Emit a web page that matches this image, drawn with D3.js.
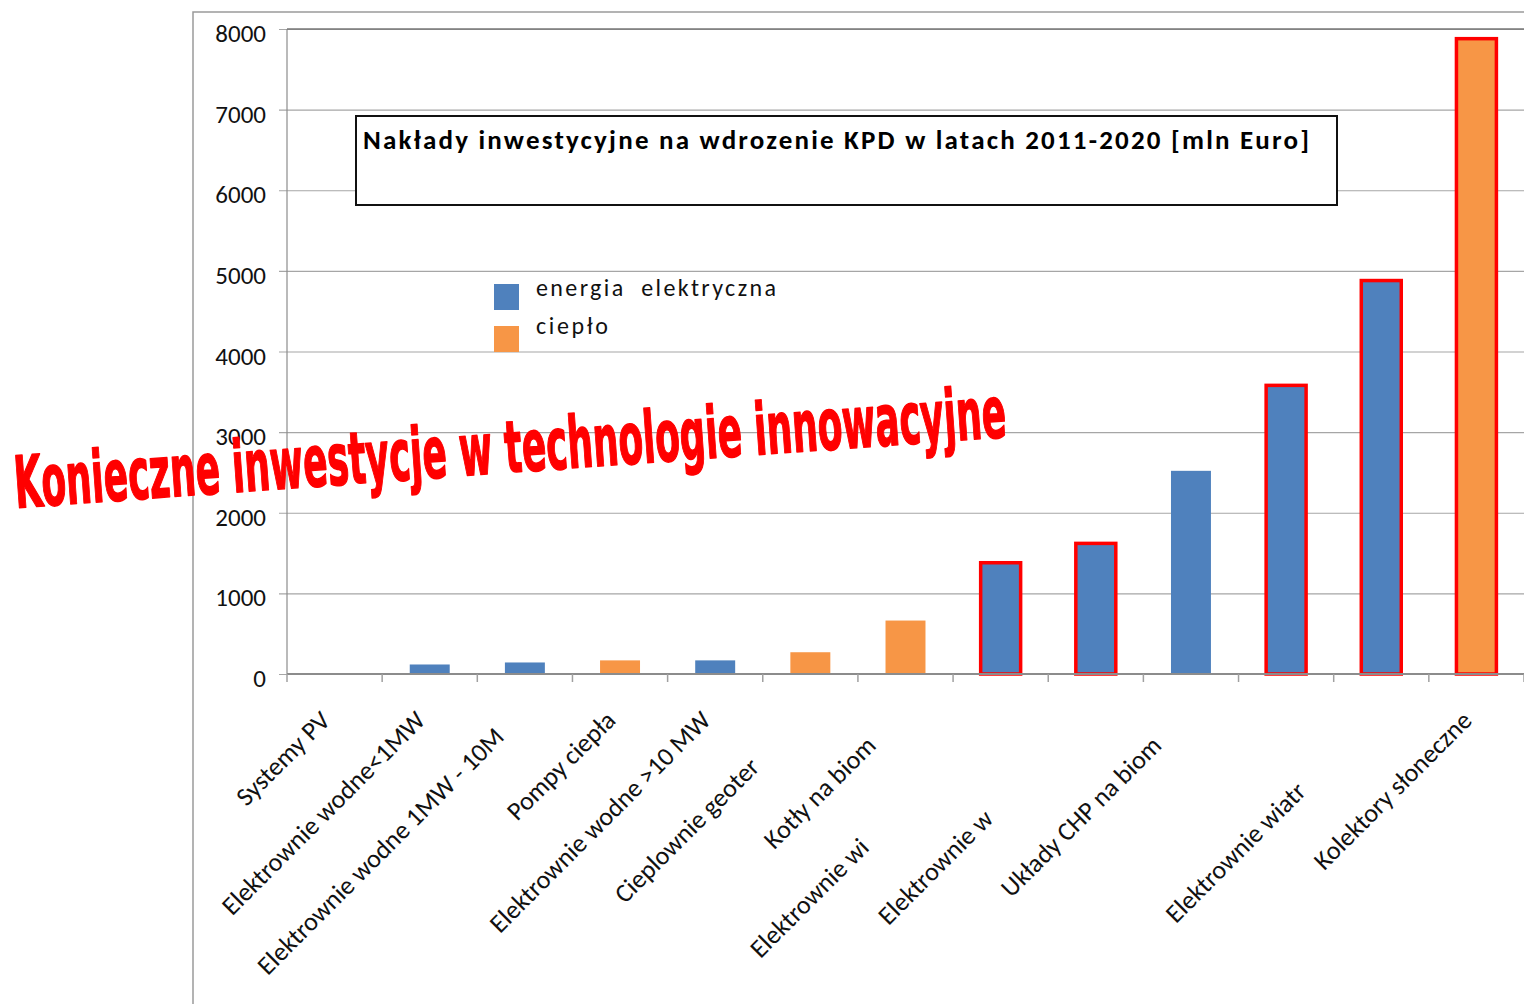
<!DOCTYPE html>
<html>
<head>
<meta charset="utf-8">
<script src="https://cdn.jsdelivr.net/npm/d3@7"></script>
<style>
  body { margin: 0; background: #fff; }
  svg { display: block; }
</style>
</head>
<body>
<svg width="1524" height="1004"></svg>
<script>
// Chart data
var categories = [
    "Systemy PV",
    "Elektrownie wodne<1MW",
    "Elektrownie wodne 1MW - 10MW",
    "Pompy ciepła",
    "Elektrownie wodne >10 MW",
    "Cieplownie geotermalne",
    "Kotły na biomasę",
    "Elektrownie wiatrowe na morzu",
    "Elektrownie wiatrowe małe",
    "Układy CHP na biomasę",
    "Elektrownie biogazowe",
    "Elektrownie wiatrowe duże",
    "Kolektory słoneczne"
];
// part of each label that is readable in the picture
var shownLabels = [
    "Systemy PV",
    "Elektrownie wodne<1MW",
    "Elektrownie wodne 1MW - 10M",
    "Pompy ciepła",
    "Elektrownie wodne >10 MW",
    "Cieplownie geoter",
    "Kotły na biom",
    "Elektrownie wi",
    "Elektrownie w",
    "Układy CHP na biom",
    "",
    "Elektrownie wiatr",
    "Kolektory słoneczne"
];
var values = [3, 118, 143, 169, 169, 270, 663, 1380, 1620, 2520, 3580, 4880, 7880];
var kinds = ["energia elektryczna", "energia elektryczna", "energia elektryczna", "ciepło",
    "energia elektryczna", "ciepło", "ciepło", "energia elektryczna", "energia elektryczna",
    "energia elektryczna", "energia elektryczna", "energia elektryczna", "ciepło"];
var highlighted = ["Elektrownie wiatrowe na morzu", "Elektrownie wiatrowe małe",
    "Elektrownie biogazowe", "Elektrownie wiatrowe duże", "Kolektory słoneczne"];
var yTicks = [0, 1000, 2000, 3000, 4000, 5000, 6000, 7000, 8000];
var legendLabels = ["energia  elektryczna", "ciepło"];
var chartTitle = "Nakłady inwestycyjne na wdrozenie KPD w latach 2011-2020 [mln Euro]";
var slogan = "Konieczne inwestycje w technologie innowacyjne";

// SVG settings
var svg = d3.select("svg"),
    plotLeft = 287, plotRight = 1524, plotTop = 29, plotBottom = 674,
    plotWidth = plotRight - plotLeft;

var colors = {"energia elektryczna": "#4F81BD", "ciepło": "#F79646"};
var labelFont = "Calibri, Carlito, Lato, 'Noto Sans', sans-serif";

var xScale = d3.scaleBand().domain(categories).range([plotLeft, plotRight])
        .paddingInner(0.58).paddingOuter(0.29),
    yScale = d3.scaleLinear().domain([0, 8000]).range([plotBottom, plotTop]);

var rows = categories.map(function(c, i) {
    return {cat: c, value: values[i], kind: kinds[i], shown: shownLabels[i]};
});

// outer chart frame
svg.append("path")
    .attr("d", "M193,1004V12H1524")
    .attr("fill", "none")
    .attr("stroke", "#9a9a9a")
    .attr("stroke-width", 1.5);

// gridlines + y labels
var yAxis = svg.append("g")
    .attr("transform", "translate(" + plotRight + ",0)")
    .call(d3.axisLeft(yScale).tickValues(yTicks).tickFormat(d3.format("d"))
        .tickSize(plotWidth + 8).tickPadding(13));
yAxis.select(".domain").remove();
yAxis.selectAll("line").attr("stroke", "#a6a6a6").attr("stroke-width", 1.2);
yAxis.selectAll("text")
    .attr("font-family", labelFont)
    .attr("font-size", 25)
    .attr("fill", "#111")
    .attr("dy", "0.5em");

// axis lines
svg.append("line")
    .attr("x1", plotLeft).attr("x2", plotLeft).attr("y1", plotTop).attr("y2", plotBottom)
    .attr("stroke", "#8c8c8c").attr("stroke-width", 1.2);
svg.append("line")
    .attr("x1", plotLeft).attr("x2", plotRight).attr("y1", plotTop).attr("y2", plotTop)
    .attr("stroke", "#777").attr("stroke-width", 1.4);

// bars
svg.selectAll(".bar")
    .data(rows)
    .enter().append("rect")
    .attr("class", "bar")
    .attr("x", function(d) { return xScale(d.cat); })
    .attr("y", function(d) { return yScale(d.value); })
    .attr("width", xScale.bandwidth())
    .attr("height", function(d) { return yScale(0) - yScale(d.value); })
    .attr("fill", function(d) { return colors[d.kind]; })
    .attr("stroke", function(d) { return highlighted.indexOf(d.cat) >= 0 ? "#ff0000" : "none"; })
    .attr("stroke-width", 3.5);

// x axis with category ticks between bars
svg.append("line")
    .attr("x1", plotLeft).attr("x2", plotRight).attr("y1", plotBottom).attr("y2", plotBottom)
    .attr("stroke", "#8c8c8c").attr("stroke-width", 2);
var edges = categories.map(function(c) { return xScale(c) - xScale.step() * xScale.paddingInner() / 2; });
edges.push(plotRight);
svg.selectAll(".xtick")
    .data(edges)
    .enter().append("line")
    .attr("class", "xtick")
    .attr("x1", function(d) { return d; }).attr("x2", function(d) { return d; })
    .attr("y1", plotBottom).attr("y2", plotBottom + 8)
    .attr("stroke", "#a0a0a0").attr("stroke-width", 1.5);

var xAxis = svg.append("g")
    .attr("transform", "translate(0," + plotBottom + ")")
    .call(d3.axisBottom(xScale).tickSize(0));
xAxis.select(".domain").remove();
xAxis.selectAll("text").each(function(d, i) {
    var t = d3.select(this).text(null)
        .attr("x", 0).attr("y", 0).attr("dy", 0)
        .attr("text-anchor", "end")
        .attr("transform", "translate(-3,48) rotate(-45)")
        .attr("font-family", labelFont)
        .attr("font-size", 26)
        .attr("fill", "#111");
    var shown = rows[i].shown;
    t.append("tspan").text(shown);
    // rest of the label is cut off in the original picture
    t.append("tspan").attr("fill-opacity", 0).text(rows[i].cat.slice(shown.length));
});

// title box
svg.append("rect")
    .attr("x", 356).attr("y", 116).attr("width", 981).attr("height", 89)
    .attr("fill", "#fff").attr("stroke", "#111").attr("stroke-width", 2);
svg.append("text")
    .attr("x", 363).attr("y", 149)
    .attr("font-family", labelFont)
    .attr("font-weight", "bold")
    .attr("font-size", 27)
    .attr("textLength", 946)
    .attr("lengthAdjust", "spacing")
    .attr("fill", "#000")
    .text(chartTitle);

// legend
var legend = svg.append("g").attr("transform", "translate(494,284)");
legend.selectAll("rect")
    .data(legendLabels)
    .enter().append("rect")
    .attr("x", 0).attr("y", function(d, i) { return i * 42; })
    .attr("width", 25).attr("height", 26)
    .attr("fill", function(d, i) { return i ? colors["ciepło"] : colors["energia elektryczna"]; });
legend.selectAll("text")
    .data(legendLabels)
    .enter().append("text")
    .attr("x", 42).attr("y", function(d, i) { return 12 + i * 38; })
    .attr("font-family", labelFont)
    .attr("font-size", 24)
    .attr("fill", "#111")
    .attr("textLength", function(d, i) { return i ? 72 : 240; })
    .attr("lengthAdjust", "spacing")
    .style("white-space", "pre")
    .text(function(d) { return d; });

// red slogan on top
svg.append("text")
    .attr("transform", "translate(16,508) rotate(-4.1)")
    .attr("font-family", "'Liberation Sans Narrow', 'DejaVu Sans Condensed', 'Liberation Sans', sans-serif")
    .attr("font-weight", "bold")
    .attr("font-size", 72)
    .attr("textLength", 994)
    .attr("lengthAdjust", "spacingAndGlyphs")
    .attr("fill", "#ff0000")
    .attr("stroke", "#ff0000")
    .attr("stroke-width", 1.5)
    .attr("stroke-linejoin", "round")
    .text(slogan);
</script>
</body>
</html>
